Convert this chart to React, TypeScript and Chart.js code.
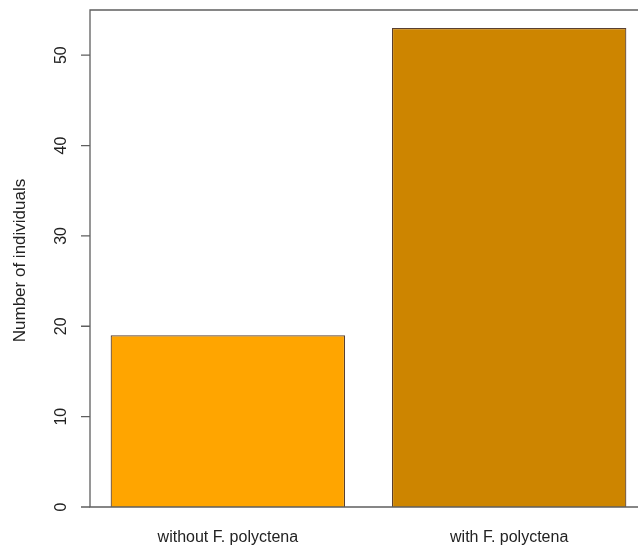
import React, { useEffect, useRef } from "react";
import { Chart, registerables } from "chart.js";

Chart.register(...registerables);

const categories = ["without F. polyctena", "with F. polyctena"];
const counts = [19, 53];
const barPositions = [0.7, 1.9];
const barColors = ["#FFA500", "#CD8500"];
const yTicks = [0, 10, 20, 30, 40, 50];
const yTitle = "Number of individuals";

const FONT = '16px "Liberation Sans", Arial, sans-serif';
const TEXT = "#222222";
const AXIS = "#5f5f5f";

const rAxesPlugin = {
  id: "rAxes",
  afterDraw(chart: any) {
    const { ctx, chartArea, scales } = chart;
    const xs = scales.x;
    const ys = scales.y;
    ctx.save();
    // box
    ctx.strokeStyle = AXIS;
    ctx.lineWidth = 1.3;
    ctx.beginPath();
    ctx.rect(chartArea.left, chartArea.top, chartArea.right - chartArea.left, chartArea.bottom - chartArea.top);
    ctx.stroke();
    // y ticks
    ctx.beginPath();
    yTicks.forEach((v) => {
      const y = ys.getPixelForValue(v);
      ctx.moveTo(chartArea.left - 9, y);
      ctx.lineTo(chartArea.left, y);
    });
    ctx.stroke();
    ctx.fillStyle = TEXT;
    ctx.font = FONT;
    ctx.textAlign = "center";
    ctx.textBaseline = "middle";
    yTicks.forEach((v) => {
      const y = ys.getPixelForValue(v);
      ctx.save();
      ctx.translate(chartArea.left - 28, y);
      ctx.rotate(-Math.PI / 2);
      ctx.fillText(String(v), 0, 0);
      ctx.restore();
    });
    // y title
    ctx.save();
    ctx.translate(chartArea.left - 70, (chartArea.top + chartArea.bottom) / 2 + 2);
    ctx.rotate(-Math.PI / 2);
    ctx.font = '17px "Liberation Sans", Arial, sans-serif';
    ctx.fillText(yTitle, 0, 0);
    ctx.restore();
    // x labels
    ctx.textBaseline = "alphabetic";
    categories.forEach((c, i) => {
      ctx.fillText(c, xs.getPixelForValue(barPositions[i]), chartArea.bottom + 35);
    });
    ctx.restore();
  },
};

export default function App() {
  const ref = useRef<HTMLCanvasElement>(null);
  useEffect(() => {
    if (!ref.current) return;
    const chart = new Chart(ref.current, {
      type: "bar",
      data: {
        datasets: [
          {
            data: counts.map((c, i) => ({ x: barPositions[i], y: c })),
            backgroundColor: barColors,
            borderColor: "#5a4030",
            borderWidth: 1.2,
            categoryPercentage: 1,
            barPercentage: 1 / 1.2,
          } as any,
        ],
      },
      options: {
        responsive: false,
        animation: false,
        events: [],
        layout: { padding: { left: 90, top: 10, right: 13, bottom: 40 } },
        plugins: { legend: { display: false }, tooltip: { enabled: false } },
        scales: {
          x: { type: "linear", min: 0.112, max: 2.488, offset: false, display: false, ticks: { stepSize: 100 } },
          y: { type: "linear", min: 0, max: 55, display: false },
        },
      },
      plugins: [rAxesPlugin],
    });
    return () => chart.destroy();
  }, []);
  return (
    <div style={{ position: "fixed", left: 0, top: 0, width: 638, height: 547, overflow: "hidden", background: "#fff" }}>
      <canvas ref={ref} width={660} height={547} style={{ display: "block", width: 660, height: 547 }} />
    </div>
  );
}
